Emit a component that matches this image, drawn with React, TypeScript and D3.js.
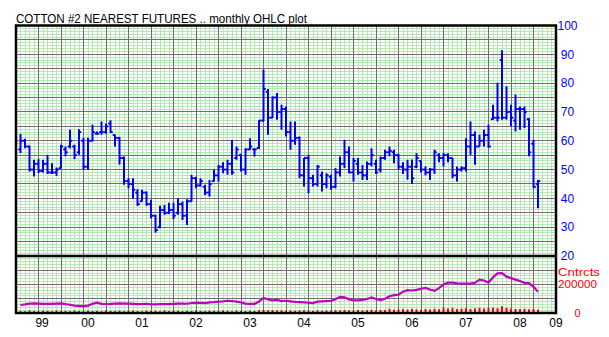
import React from "react";
import * as d3 from "d3";

// month index: 0 = Jan 1999
const firstIdx = 3; // Apr 1999
const opens = [57,60,58,50,52,49.5,52,49,49,50.5,57,58,58,56,60,51,60,62.5,63,63,66,62,61,54,46,45,42,39,42,38,34,30,36,35,36,35,38,34,39,47,44.5,44,42,46,48,51,50,52,54,55,50,57,57,57.5,67,77,68,75,70,71,63,60,61,48,54,47,45,48,45,47.5,44,49,52,56,49,52,49,48,52,52,50,54,56,56,55,51,50,51,51,53,50,49,50,55,54,55,54,48,50,50.5,58,62,58,60,62,67.5,68,88,68,70,67,71,71,67.5,59,45];
const highs = [62.4,60.7,58.3,53.4,53.6,53.4,55.1,52.2,50.7,58.6,58,63.8,58.6,64,61,61,65.6,63.2,66.7,65.9,67.1,62.1,61.3,54.5,47,47,43.2,43,42.4,39.5,34.3,37.4,37.7,38.5,38.5,40,38.9,39.7,48.2,47.5,47,44.7,46.4,49.9,51.6,52.5,53.4,60.3,58,55.5,57.4,60.9,57.4,67.1,84.7,78,75.4,76.6,72.5,71.9,66.7,66.7,61.5,54,55.1,48.2,51.6,49.3,48.7,48.2,50.5,54.5,60.3,58,54,54,51.6,52.8,57.4,53.4,54.5,56.9,58,56.9,55.5,52.5,53.4,53.5,55.7,53,51.1,50.5,56.9,55.7,55.7,55.7,54,51.1,51.1,60.9,66.7,63.2,62.1,63.8,65.6,72.5,80.1,91.4,78.9,72.5,76,71.9,71.9,67.9,60.3,46.4];
const lows = [55.7,57.4,49.3,47.6,48.8,49,48.5,48.5,47.8,50.5,54.6,57.4,53.6,55.1,49.9,49.9,59.8,62.1,62.1,62.4,62.7,58,51.7,44.7,43.5,40,37.4,38.9,37.4,33.1,28.1,29.6,34.3,34.6,32.8,34.3,32.5,30.8,38.9,43.5,44.1,41.2,40.6,45.9,45.9,48.7,48.2,48.2,53.4,49.3,48.2,56.9,54.5,57.1,66.7,62.1,67.9,67.3,63.8,61.5,56.9,58.6,47,44.1,41.8,44.1,44.1,42.4,43.5,43,43.5,47.6,50.5,48.7,45.9,48.2,46.4,46.4,51.1,48.5,49,53.4,54.6,52.2,50,48.5,46.5,45,50.5,49,48,46.4,48.5,52.5,51.1,52.5,47,45.9,49.3,49.3,55.1,51.7,58,58,57.5,67.3,66.7,67.3,67.3,65,63.2,63.8,64.4,54.6,43.5,36.6];
const closes = [60,58,50,52,49.5,52,49,49,50,58,56,60,55,63,51,60,63,62.5,63,65,63,61,54,46,45,43,38,42,38,34,29,36,35,36,34,38,34,39,47,44.5,46,42,45,48,51,50,52,49,57,50,57,58,57,67,78,68,75,70,71,63,60,61,48,54,47,45,51,45,48,44,49,52,56,49,53,49,48,52,55,49,54,56,56.5,55,51,50,51,47,54,50,49,50,56,54,55,54,48,50,50.5,58,62,58,60,62,58,68,68,68,70,68,71,71,70,56,44,46];
const openInterest = [56000,60000,66000,67000,66000,64000,65000,64000,66000,67000,62000,58000,52000,50000,48000,52000,65000,72000,64000,63000,64000,66000,67000,66000,66000,64000,62000,63000,64000,60000,61000,62000,62000,62000,64000,66000,66000,65000,70000,71000,72000,70000,74000,76000,80000,82000,86000,84000,80000,74000,66000,64000,64000,80000,106000,96000,88000,92000,84000,86000,82000,78000,76000,74000,72000,70000,80000,82000,84000,86000,96000,113000,110000,96000,90000,89000,92000,98000,109000,98000,90000,100000,118000,125000,128000,150000,160000,158000,162000,170000,176000,165000,155000,175000,200000,213000,214000,208000,206000,206000,206000,212000,234000,228000,213000,250000,278000,280000,255000,245000,234000,225000,212000,210000,185000,148000];
const volume = [12000,9000,14000,10000,8000,13000,11000,9000,15000,10000,12000,9000,14000,11000,8000,13000,10000,12000,9000,15000,11000,10000,13000,9000,12000,14000,10000,8000,13000,11000,12000,9000,15000,10000,11000,13000,9000,12000,10000,14000,11000,9000,13000,12000,10000,15000,11000,9000,14000,12000,10000,13000,11000,16000,18000,15000,17000,14000,16000,13000,15000,12000,14000,16000,13000,11000,15000,12000,14000,13000,16000,14000,18000,15000,13000,17000,14000,16000,19000,15000,18000,17000,26000,20000,22000,24000,20000,26000,22000,19000,25000,21000,27000,23000,33000,28000,33000,24000,27000,30000,25000,29000,33000,28000,31000,34000,30000,44000,32000,27000,25000,24000,26000,22000,25000,20000];
const yearLabels = ["99","00","01","02","03","04","05","06","07","08","09"];
const priceTicks = [100,90,80,70,60,50,40,30,20];
const title = "COTTON #2 NEAREST FUTURES .. monthly OHLC plot";

const L = 16, R = 556, T = 25.5, MID = 256, B = 313;
const x = d3.scaleLinear().domain([2, 122]).range([L, R]);
const yP = d3.scaleLinear().domain([20, 100]).range([MID, T]);
const yV = d3.scaleLinear().domain([0, 400000]).range([B, MID]);

export default function App() {
  const minorV = d3.range(2, 123, 1);
  const majorV = d3.range(2, 123, 5);
  const minorHP = d3.range(20, 101, 1);
  const majorHP = d3.range(20, 101, 5);
  const minorHV = d3.range(0, 400001, 20000);
  const majorHV = d3.range(0, 400001, 100000);
  const idxs = opens.map((_, i) => firstIdx + i);
  const line = d3.line<number>().x((_, i) => x(firstIdx + i)).y((d) => yV(d));
  const labelIdx = (k: number) => {
    if (k === 0) return (firstIdx + 12) / 2 + 0.3;
    if (k === yearLabels.length - 1) return 122;
    return k * 12 + 6;
  };
  const blue = "#0000f0";
  const font = "Liberation Sans, Arial, sans-serif";
  return (
    <svg width={609} height={337} style={{ position: "absolute", left: 0, top: 0, background: "#fff" }}>
      <rect x={0} y={0} width={609} height={337} fill="#fff" />
      <g stroke="#b6e8b6" strokeWidth={1} shapeRendering="crispEdges">
        {minorV.map((k) => <line key={"mv" + k} x1={x(k)} x2={x(k)} y1={T} y2={B} />)}
        {minorHP.map((p) => <line key={"mh" + p} x1={L} x2={R} y1={yP(p)} y2={yP(p)} />)}
        {minorHV.map((v) => <line key={"mhv" + v} x1={L} x2={R} y1={yV(v)} y2={yV(v)} />)}
      </g>
      <g stroke="#6e6e6e" strokeWidth={1} shapeRendering="crispEdges">
        {majorV.map((k) => <line key={"Mv" + k} x1={x(k)} x2={x(k)} y1={T} y2={B} />)}
        {majorHP.map((p) => <line key={"Mh" + p} x1={L} x2={R} y1={yP(p)} y2={yP(p)} />)}
        {majorHV.map((v) => <line key={"Mhv" + v} x1={L} x2={R} y1={yV(v)} y2={yV(v)} />)}
      </g>
      <g fill="#ff0000">
        {volume.map((v, i) => (
          <rect key={"v" + i} x={x(firstIdx + i) - 1} y={yV(v) - 0.5} width={2} height={B - yV(v) + 0.5} />
        ))}
      </g>
      <path d={line(openInterest) || ""} fill="none" stroke="#c000c0" strokeWidth={2.2} />
      <g stroke={blue} strokeWidth={2}>
        {idxs.map((k, i) => (
          <g key={"b" + i}>
            <line x1={x(k)} x2={x(k)} y1={yP(highs[i])} y2={yP(lows[i])} />
            <line x1={x(k) - 2.25} x2={x(k)} y1={yP(opens[i])} y2={yP(opens[i])} />
            <line x1={x(k)} x2={x(k) + 2.25} y1={yP(closes[i])} y2={yP(closes[i])} />
          </g>
        ))}
      </g>
      <g stroke="#000" strokeWidth={2.5} fill="none">
        <rect x={L} y={T} width={R - L} height={B - T} />
        <line x1={L} x2={R} y1={MID} y2={MID} />
      </g>
      <text x={L} y={22.7} fontFamily={font} fontSize={13} fill="#000" textLength={291} lengthAdjust="spacingAndGlyphs">{title}</text>
      <g fontFamily={font} fontSize={12} fill="#0000ff" textAnchor="middle">
        {priceTicks.map((p) => (
          <text key={"pt" + p} x={567.5} y={yP(p)} dy="0.35em">{p}</text>
        ))}
      </g>
      <g fontFamily={font} fontSize={11} fill="#ff0000" textAnchor="middle">
        <text x={579} y={271.8} dy="0.35em" textLength={42} lengthAdjust="spacingAndGlyphs">Cntrcts</text>
        <text x={577.5} y={yV(200000)} dy="0.35em" textLength={39} lengthAdjust="spacingAndGlyphs">200000</text>
        <text x={577.5} y={yV(0)} dy="0.35em">0</text>
      </g>
      <g fontFamily={font} fontSize={12} fill="#000" textAnchor="middle">
        {yearLabels.map((lab, k) => (
          <text key={"yl" + k} x={x(labelIdx(k))} y={323} dy="0.35em">{lab}</text>
        ))}
      </g>
    </svg>
  );
}
